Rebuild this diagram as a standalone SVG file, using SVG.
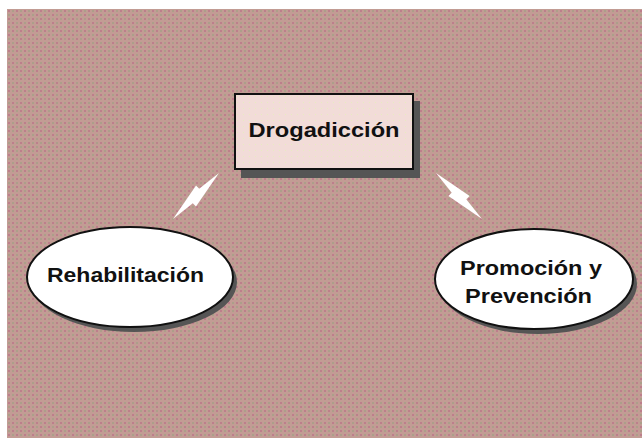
<svg xmlns="http://www.w3.org/2000/svg" width="642" height="438" viewBox="0 0 642 438">
<defs>
<pattern id="bg" x="7" y="9" width="8" height="8" patternUnits="userSpaceOnUse">
<rect width="8" height="8" fill="#c29c94"/>
<rect x="1" y="1" width="2" height="2" fill="#bd7e8c"/>
<rect x="5" y="5" width="2" height="2" fill="#bd7e8c"/>
<rect x="5" y="1" width="2" height="2" fill="#ab9f89"/>
<rect x="1" y="5" width="2" height="2" fill="#ab9f89"/>
</pattern>
<pattern id="boxfill" x="235" y="94" width="6" height="6" patternUnits="userSpaceOnUse">
<rect width="6" height="6" fill="#f2dcd8"/>
<rect x="2" y="2" width="1" height="1" fill="#e8ecc0"/>
</pattern>
<style>
.sh{fill:#555;}
.node{stroke:#111;stroke-width:2;}
.lbl{font-family:"Liberation Sans",Arial,sans-serif;font-weight:bold;font-size:20px;fill:#111;text-anchor:middle;}
.arr{fill:#fff;}
</style>
</defs>
<rect x="0" y="0" width="642" height="438" fill="#fff"/>
<rect x="7" y="9" width="635" height="429" fill="url(#bg)"/>
<g id="connectors">
<polygon class="arr" points="219,173 196.0,206.6 187.5,198.1"/>
<polygon class="arr" points="173,219 204.5,193.9 196.0,185.4"/>
<polygon class="arr" points="436,173 469.6,196.0 461.1,204.5"/>
<polygon class="arr" points="482,219 456.9,187.5 448.4,196.0"/>
</g>
<g id="drogadiccion">
<rect class="sh" x="241" y="101" width="179" height="77"/>
<rect class="node" x="235" y="94" width="178" height="75" fill="url(#boxfill)"/>
<text class="lbl" x="324" y="137" textLength="151" lengthAdjust="spacingAndGlyphs">Drogadicción</text>
</g>
<g id="rehabilitacion">
<ellipse class="sh" cx="134" cy="282" rx="103" ry="50"/>
<ellipse class="node" cx="130" cy="277" rx="103" ry="50" fill="#fff"/>
<text class="lbl" x="125.5" y="282" textLength="157" lengthAdjust="spacingAndGlyphs" font-size="21">Rehabilitación</text>
</g>
<g id="promocion">
<ellipse class="sh" cx="538" cy="284" rx="99" ry="50"/>
<ellipse class="node" cx="534" cy="279" rx="99" ry="50" fill="#fff"/>
<text class="lbl" x="531" y="275" textLength="142" lengthAdjust="spacingAndGlyphs">Promoción y</text>
<text class="lbl" x="528.5" y="303" textLength="127" lengthAdjust="spacingAndGlyphs">Prevención</text>
</g>
</svg>
